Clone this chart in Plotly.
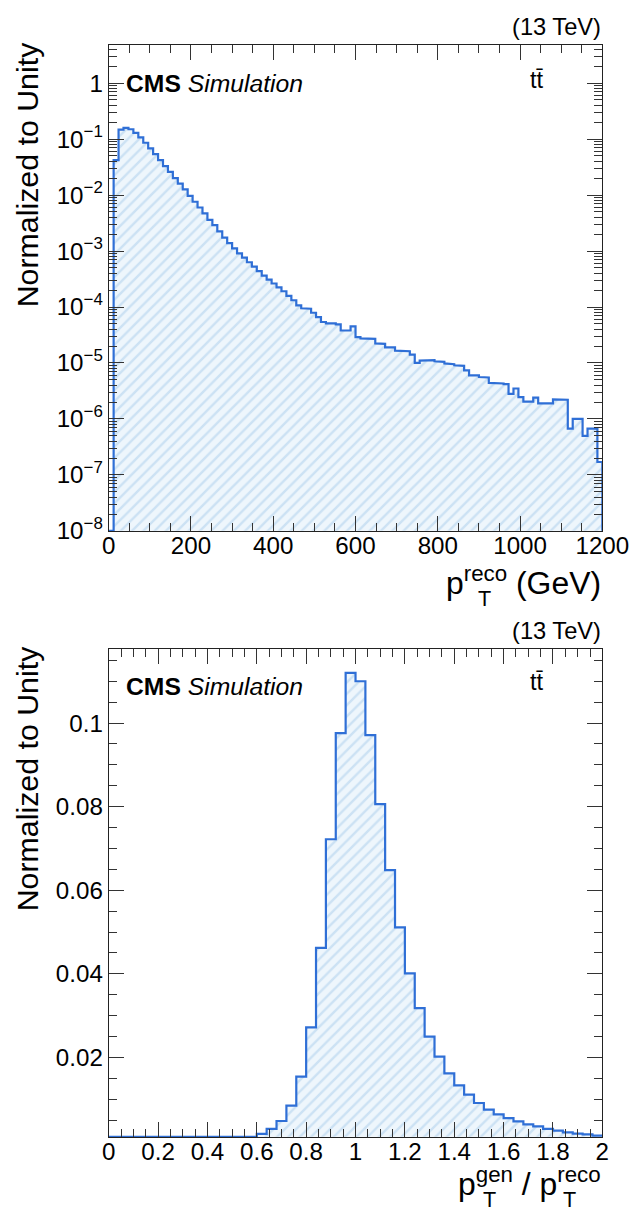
import numpy as np
import plotly.graph_objects as go

# The photographed page shows the figure reduced (~0.96 horizontally, ~0.988 vertically);
# the figure is enlarged by the same factors so that it fills the 630x1210 picture.
PHOTO_W, PHOTO_H = 630, 1210
SX, SY = 0.96, 0.988
W, H = round(PHOTO_W / SX), round(PHOTO_H / SY)
FS = 1.0 / 0.972  # font scale

# ---------------- data ----------------
# Top: reco pT, 100 bins of 12 GeV (0-1200 GeV), normalized to unity
pt_range = [0, 1200]
pt_values = [
    0.0, 0.042, 0.148, 0.159, 0.150, 0.129, 0.107, 0.086, 0.068, 0.054,
    0.042, 0.033, 0.026, 0.020, 0.016, 0.0126, 0.0097, 0.0076, 0.0060, 0.0047,
    0.0036, 0.0029, 2.24e-3, 1.74e-3, 1.38e-3, 1.12e-3, 9.1e-4, 7.6e-4, 6.3e-4, 5.25e-4,
    4.37e-4, 3.63e-4, 3.09e-4, 2.63e-4, 2.24e-4, 1.91e-4, 1.58e-4, 1.32e-4, 1.07e-4, 9.5e-5,
    9.3e-5, 7.9e-5, 6.6e-5, 5.4e-5, 5.1e-5, 5.1e-5, 4.9e-5, 3.8e-5, 3.8e-5, 4.5e-5,
    2.9e-5, 2.75e-5, 2.75e-5, 2.7e-5, 2.24e-5, 2.19e-5, 1.9e-5, 1.9e-5, 1.66e-5, 1.66e-5,
    1.62e-5, 1.41e-5, 1.0e-5, 1.1e-5, 1.1e-5, 1.12e-5, 1.07e-5, 1.05e-5, 9.8e-6, 9.5e-6,
    9.1e-6, 8.9e-6, 7.4e-6, 6.0e-6, 6.0e-6, 5.6e-6, 5.5e-6, 4.4e-6, 4.4e-6, 4.3e-6,
    4.2e-6, 2.8e-6, 3.5e-6, 2.45e-6, 2.04e-6, 2.04e-6, 2.4e-6, 1.9e-6, 1.9e-6, 1.9e-6,
    2.24e-6, 2.24e-6, 2.2e-6, 6.7e-7, 1.0e-6, 1.0e-6, 5.0e-7, 6.7e-7, 6.7e-7, 1.7e-7,
]
# Bottom: pT gen / pT reco, 50 bins of 0.04 (0-2), normalized to unity
ratio_range = [0, 2]
ratio_values = [
    0.0, 0.0, 0.0, 0.0, 0.0, 0.0, 0.0, 0.0, 0.0, 0.0,
    0.0, 0.0, 0.0, 0.0, 0.0, 0.0017, 0.0029, 0.0048, 0.0085, 0.0154,
    0.0272, 0.0462, 0.0722, 0.0976, 0.112, 0.110, 0.0971, 0.0806, 0.0648, 0.0511,
    0.0401, 0.0318, 0.0250, 0.0202, 0.0162, 0.0133, 0.0111, 0.0091, 0.0075, 0.0064,
    0.0055, 0.0047, 0.0040, 0.0035, 0.0029, 0.0025, 0.0021, 0.0018, 0.0016, 0.0013,
]

top_xticks = [0, 200, 400, 600, 800, 1000, 1200]
top_yticks = [1e-8, 1e-7, 1e-6, 1e-5, 1e-4, 1e-3, 1e-2, 1e-1, 1]
top_yticktext = ["10<sup>\u22128</sup>", "10<sup>\u22127</sup>", "10<sup>\u22126</sup>",
                 "10<sup>\u22125</sup>", "10<sup>\u22124</sup>", "10<sup>\u22123</sup>",
                 "10<sup>\u22122</sup>", "10<sup>\u22121</sup>", "1"]
bot_xticks = [0, 0.2, 0.4, 0.6, 0.8, 1.0, 1.2, 1.4, 1.6, 1.8, 2.0]
bot_xticktext = ["0", "0.2", "0.4", "0.6", "0.8", "1", "1.2", "1.4", "1.6", "1.8", "2"]
bot_yticks = [0.02, 0.04, 0.06, 0.08, 0.1]
bot_yticktext = ["0.02", "0.04", "0.06", "0.08", "0.1"]

TOP_YLOG = [-8, 0.68]
BOT_YR = [0.001, 0.1177]

# positions are given in picture pixels
def px(x):
    return x / PHOTO_W

def py(y):
    return 1 - y / PHOTO_H

def step_xy(lo, hi, vals, floor):
    edges = np.linspace(lo, hi, len(vals) + 1)
    xs, ys = [edges[0]], [floor]
    for i, v in enumerate(vals):
        v = max(v, floor)
        xs += [edges[i], edges[i + 1]]
        ys += [v, v]
    xs.append(edges[-1])
    ys.append(floor)
    return xs, ys

LINE = "#2f6fd6"
pattern = dict(shape="/", bgcolor="#eef6fc", fgcolor="#a9cdec", size=8, solidity=0.3)

fig = go.Figure()
x1, y1 = step_xy(pt_range[0], pt_range[1], pt_values, 10 ** TOP_YLOG[0])
fig.add_trace(go.Scatter(x=x1, y=y1, mode="lines", line=dict(color=LINE, width=2.2),
                         fill="toself", fillcolor="#eef6fc", fillpattern=pattern,
                         xaxis="x", yaxis="y", showlegend=False, hoverinfo="skip"))
x2, y2 = step_xy(ratio_range[0], ratio_range[1], ratio_values, BOT_YR[0])
fig.add_trace(go.Scatter(x=x2, y=y2, mode="lines", line=dict(color=LINE, width=2.2),
                         fill="toself", fillcolor="#eef6fc", fillpattern=pattern,
                         xaxis="x2", yaxis="y2", showlegend=False, hoverinfo="skip"))

FONT = "Liberation Sans, Arial, Helvetica, sans-serif"
tickfont = dict(family=FONT, size=23.5 * FS, color="black")

def axis_common():
    return dict(showline=True, linecolor="#222", linewidth=1, mirror="allticks",
                ticks="inside", ticklen=15, tickwidth=1, tickcolor="#333",
                showgrid=False, zeroline=False, tickfont=tickfont, fixedrange=True)

minor_log = []
for k in range(-8, 1):
    for m in range(2, 10):
        minor_log.append(m * 10.0 ** k)

XDOM = [px(103), px(603)]
fig.update_layout(
    width=W, height=H, autosize=False,
    margin=dict(l=0, r=0, t=0, b=0),
    paper_bgcolor="white", plot_bgcolor="white",
    font=dict(family=FONT, color="black"),
    xaxis=dict(domain=XDOM, anchor="y", range=pt_range, tickmode="array",
               tickvals=top_xticks, ticktext=[str(v) for v in top_xticks],
               ticklabelstandoff=-7,
               minor=dict(dtick=50, ticks="inside", ticklen=8, tickcolor="#333"),
               **axis_common()),
    yaxis=dict(domain=[py(530), py(45)], anchor="x", type="log", range=TOP_YLOG,
               tickmode="array", tickvals=top_yticks, ticktext=top_yticktext,
               minor=dict(tickmode="array", tickvals=minor_log, ticks="inside",
                          ticklen=8, tickcolor="#333"),
               **axis_common()),
    xaxis2=dict(domain=XDOM, anchor="y2", range=ratio_range, tickmode="array",
                tickvals=bot_xticks, ticktext=bot_xticktext,
                ticklabelstandoff=-7,
                minor=dict(dtick=0.05, ticks="inside", ticklen=8, tickcolor="#333"),
                **axis_common()),
    yaxis2=dict(domain=[py(1135), py(648)], anchor="x2", range=BOT_YR,
                tickmode="array", tickvals=bot_yticks, ticktext=bot_yticktext,
                minor=dict(dtick=0.005, ticks="inside", ticklen=8, tickcolor="#333"),
                **axis_common()),
)

ann = []
def add_text(text, x, y, xanchor="left", yanchor="middle", size=22, angle=0, **kw):
    ann.append(dict(text=text, x=px(x), y=py(y), xref="paper", yref="paper",
                    xanchor=xanchor, yanchor=yanchor, showarrow=False, textangle=angle,
                    font=dict(family=FONT, size=size * FS, color="black"), **kw))

for (ytop, ycms, ytt) in [(45, 83, 80), (648, 685, 681)]:
    add_text("(13 TeV)", 604, ytop - 18, xanchor="right", size=23)
    add_text("<b>CMS</b> <i>Simulation</i>", 118, ycms, size=24)
    add_text("tt\u0304", 546, ytt, xanchor="right", size=23)
    add_text("Normalized to Unity", 21, ytop - 5, xanchor="center", yanchor="top",
             size=29.5, angle=-90)

add_text("p<sup>reco</sup> (GeV)", 604, 580, xanchor="right", size=31)
add_text("T", 475, 598, xanchor="left", size=21)
add_text("p<sup>gen</sup> / p<sup>reco</sup>", 604, 1180, xanchor="right", size=31)
add_text("T", 480, 1198, xanchor="left", size=21)
add_text("T", 561, 1198, xanchor="left", size=21)

fig.update_layout(annotations=ann)
fig.write_html("out.html", config={"displayModeBar": False},
               post_script="document.body.style.margin='0px';document.body.style.overflow='hidden';")
